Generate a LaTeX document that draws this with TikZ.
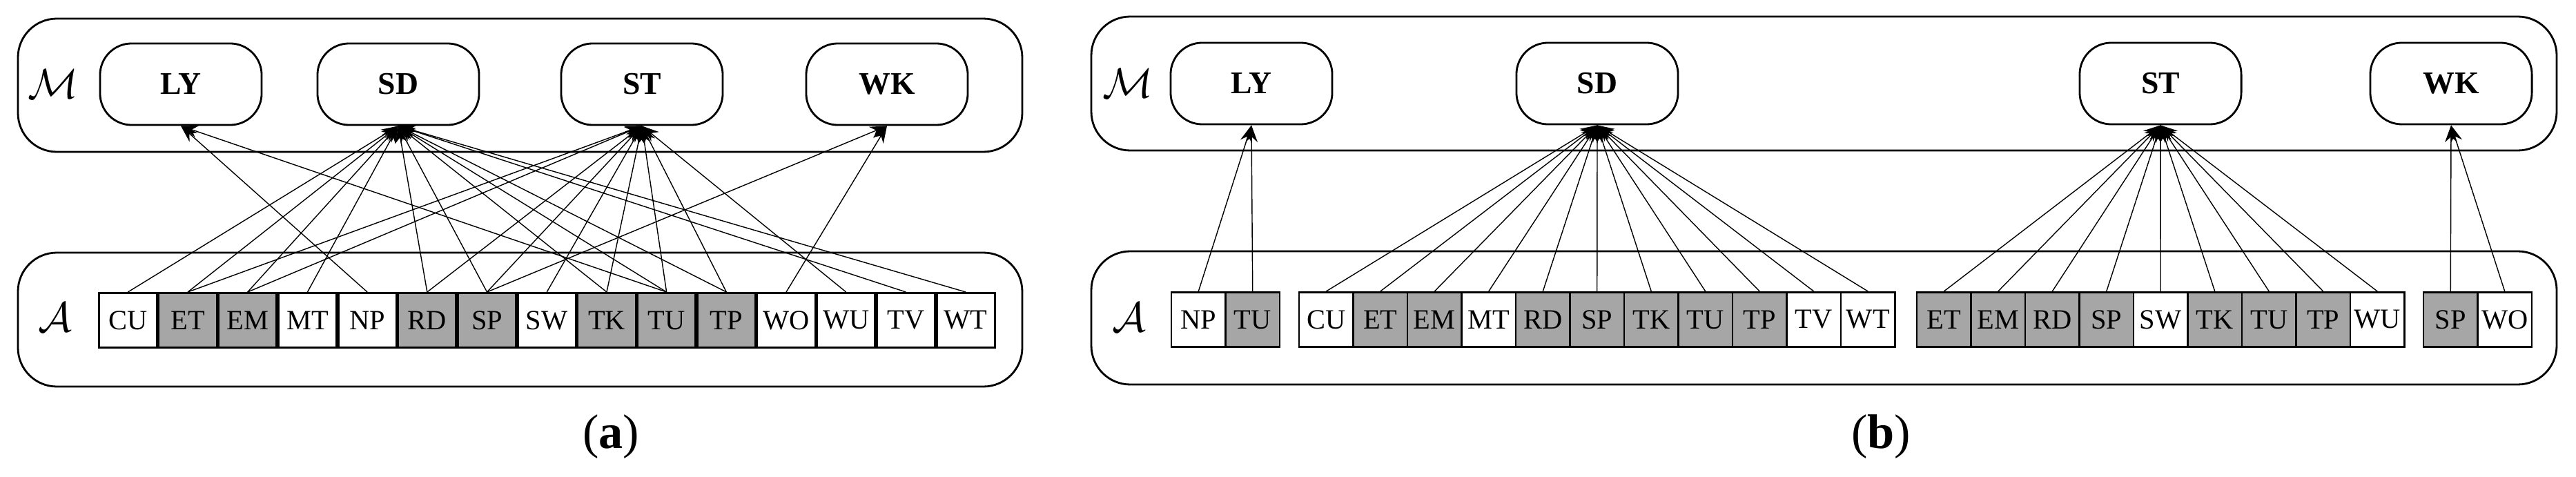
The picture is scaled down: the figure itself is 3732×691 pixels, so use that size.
\documentclass[tikz,border=0pt]{standalone}
\usepackage{fontspec}
\setmainfont{Liberation Serif}
\usetikzlibrary{arrows.meta}
\tikzset{
  group/.style={draw, thick, rounded corners=16pt},
  model/.style={draw, thick, rounded corners=13pt, minimum width=2.34cm, minimum height=1.18cm, font=\fontsize{13}{15}\selectfont\bfseries},
  attr/.style={draw, thick, minimum width=0.84cm, minimum height=0.79cm, inner sep=0pt, font=\fontsize{11.5}{13}\selectfont},
  attrb/.style={attr, minimum width=0.785cm},
  g/.style={fill=black!35},
  w/.style={fill=white},
  edge/.style={-{Stealth[length=7pt,width=5pt]}},
  setname/.style={font=\fontsize{19}{21}\selectfont},
  caption/.style={font=\fontsize{20}{24}\selectfont}
}
\begin{document}
\begin{tikzpicture}[x=0.01cm, y=-0.01cm]
  \useasboundingbox (0,0) rectangle (3732,691);

  % (a)
  \draw[group] (26,27) rectangle (1481,220);
  \draw[group] (26,366) rectangle (1481,560);
  \node[setname] (aM) at (77,122) {$\mathcal{M}$};
  \node[setname] (aA) at (80,460) {$\mathcal{A}$};
  \foreach \n/\x in {LY/262, SD/577, ST/930, WK/1285}
    \node[model] (a\n) at (\x,122) {\n};
  \foreach \n/\s [count=\i] in {CU/w, ET/g, EM/g, MT/w, NP/w, RD/g, SP/g, SW/w, TK/g, TU/g, TP/g, WO/w, WU/w, TV/w, WT/w}
    \node[attr, \s] (a\n) at ({142+86.7*(\i-0.5)},464) {\n};
  \foreach \s in {CU,ET,EM,MT,RD,SP,TK,TU,TP,TV,WT}
    \draw[edge] (a\s.north) -- (aSD.south);
  \foreach \s in {ET,EM,RD,SP,SW,TK,TU,TP,WU}
    \draw[edge] (a\s.north) -- (aST.south);
  \foreach \s in {NP,TU}
    \draw[edge] (a\s.north) -- (aLY.south);
  \foreach \s in {SP,WO}
    \draw[edge] (a\s.north) -- (aWK.south);
  \node[caption] (acap) at (885,633) {(\textbf{a})};

  % (b)
  \draw[group] (1581,24) rectangle (3704,218);
  \draw[group] (1581,364) rectangle (3704,557);
  \node[setname] (bM) at (1634,121) {$\mathcal{M}$};
  \node[setname] (bA) at (1636,460) {$\mathcal{A}$};
  \foreach \n/\x in {LY/1813, SD/2314, ST/3130, WK/3551}
    \node[model] (b\n) at (\x,121) {\n};
  \foreach \n/\s [count=\i] in {NP/w, TU/g}
    \node[attrb, \s] (bl\i) at ({1697+78.5*(\i-0.5)},463) {\n};
  \foreach \n/\s [count=\i] in {CU/w, ET/g, EM/g, MT/w, RD/g, SP/g, TK/g, TU/g, TP/g, TV/w, WT/w}
    \node[attrb, \s] (bd\i) at ({1882+78.5*(\i-0.5)},463) {\n};
  \foreach \n/\s [count=\i] in {ET/g, EM/g, RD/g, SP/g, SW/w, TK/g, TU/g, TP/g, WU/w}
    \node[attrb, \s] (bt\i) at ({2777+78.5*(\i-0.5)},463) {\n};
  \foreach \n/\s [count=\i] in {SP/g, WO/w}
    \node[attrb, \s] (bw\i) at ({3511+78.5*(\i-0.5)},463) {\n};
  \foreach \i in {1,2}
    \draw[edge] (bl\i.north) -- (bLY.south);
  \foreach \i in {1,...,11}
    \draw[edge] (bd\i.north) -- (bSD.south);
  \foreach \i in {1,...,9}
    \draw[edge] (bt\i.north) -- (bST.south);
  \foreach \i in {1,2}
    \draw[edge] (bw\i.north) -- (bWK.south);
  \node[caption] (bcap) at (2725,633) {(\textbf{b})};
\end{tikzpicture}
\end{document}
